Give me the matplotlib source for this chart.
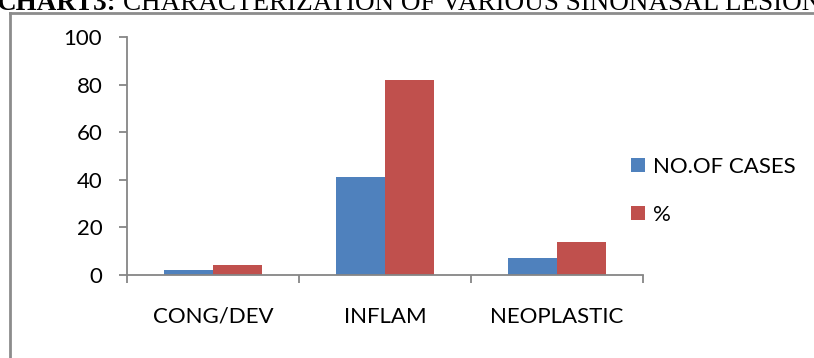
import matplotlib
matplotlib.use('Agg')
import matplotlib.pyplot as plt
from matplotlib.lines import Line2D
import numpy as np

# data
categories = ['CONG/DEV', 'INFLAM', 'NEOPLASTIC']
no_of_cases = [2, 41, 7]
percent = [4, 82, 14]
series_names = ['NO.OF CASES', '%']
y_ticks = [0, 20, 40, 60, 80, 100]

W, H = 814, 358
fig = plt.figure(figsize=(W / 100, H / 100), dpi=100)

# axes box placed in pixels (left, bottom, width, height)
ax = fig.add_axes([127 / W, 1 - 275 / H, (643 - 127) / W, (275 - 37) / H])

x = np.arange(len(categories))
bw = 0.285
b1 = ax.bar(x - bw / 2, no_of_cases, bw, color='#4F81BD', label=series_names[0])
b2 = ax.bar(x + bw / 2, percent, bw, color='#C0504D', label=series_names[1])

ax.set_xlim(-0.5, len(categories) - 0.5)
ax.set_ylim(0, 100)

grey = '#868686'
for s in ['top', 'right']:
    ax.spines[s].set_visible(False)
for s in ['left', 'bottom']:
    ax.spines[s].set_color(grey)
    ax.spines[s].set_linewidth(1.3)

tick_font = 'Lato'
ax.set_yticks(y_ticks)
ax.set_yticklabels([str(v) for v in y_ticks], fontsize=16, family=tick_font)
ax.tick_params(axis='y', length=5.8, width=1.3, color=grey, pad=12)

# category boundaries carry the tick marks, names sit in between
ax.set_xticks(np.arange(-0.5, len(categories), 1.0))
ax.set_xticklabels([])
ax.tick_params(axis='x', which='major', length=5.8, width=1.3, color=grey)
ax.set_xticks(x, minor=True)
ax.set_xticklabels(categories, minor=True, fontsize=16, family=tick_font)
ax.tick_params(axis='x', which='minor', length=0, pad=23)

leg = ax.legend(handles=[b1, b2], loc='center left',
                bbox_to_anchor=(631 / W, 1 - 191 / H), bbox_transform=fig.transFigure,
                frameon=False, prop={'family': tick_font, 'size': 16},
                handlelength=0.62, handleheight=0.62, handletextpad=0.35,
                labelspacing=1.25, borderpad=0, borderaxespad=0)

# outer frame of the chart area (only top and left edges visible)
fx, fy = 10 / W, 1 - 12.7 / H
fig.add_artist(Line2D([fx, fx], [0, fy], color='#8c8c8c', lw=2))
fig.add_artist(Line2D([fx, 1], [fy, fy], color='#8c8c8c', lw=2))

# title, cut off at the top of the picture
fig.text(116 / W, 1 - 10 / H, 'CHART3:', fontsize=19.5, weight='bold',
         family='Liberation Serif', va='baseline', ha='right')
fig.text(123 / W, 1 - 10 / H, 'CHARACTERIZATION OF VARIOUS SINONASAL LESIONS',
         fontsize=19.5, family='Liberation Serif', va='baseline', ha='left')

fig.savefig('out.png', dpi=100)
